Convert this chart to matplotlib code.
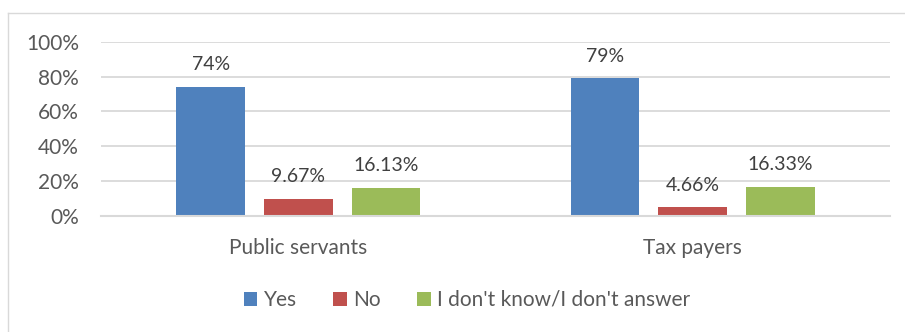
import matplotlib
matplotlib.use("Agg")
import matplotlib.pyplot as plt
from matplotlib.lines import Line2D
import numpy as np

categories = ["Public servants", "Tax payers"]
series_names = ["Yes", "No", "I don't know/I don't answer"]
yes_vals = [74, 79]
no_vals = [9.67, 4.66]
dk_vals = [16.13, 16.33]
value_labels = [["74%", "79%"], ["9.67%", "4.66%"], ["16.13%", "16.33%"]]
y_ticks = [0, 20, 40, 60, 80, 100]

colors = ["#4F81BD", "#C0504D", "#9BBB59"]
grid_color = "#D9D9D9"
text_color = "#595959"
label_color = "#404040"

plt.rcParams["font.family"] = ["Lato", "DejaVu Sans"]

fig = plt.figure(figsize=(9.05, 3.32), dpi=100)
ax = fig.add_axes([101 / 905, 1 - 215.5 / 332, 789 / 905, 173.5 / 332])

x = np.arange(len(categories))
width = 0.174
step = 0.222
all_vals = [yes_vals, no_vals, dk_vals]
for i, (vals, name, col) in enumerate(zip(all_vals, series_names, colors)):
    pos = x + (i - 1) * step
    ax.bar(pos, vals, width=width, color=col, label=name, zorder=3)
    for p, v, lab in zip(pos, vals, value_labels[i]):
        ax.annotate(lab, (p, v), xytext=(0, 10), textcoords="offset points",
                    ha="center", va="bottom", fontsize=14, color=label_color)

ax.set_xlim(-0.5, 1.5)
ax.set_ylim(0, 100)
ax.set_yticks(y_ticks)
ax.set_yticklabels([f"{t}%" for t in y_ticks])
ax.set_xticks(x)
ax.set_xticklabels(categories)
ax.tick_params(axis="y", length=0, pad=16, labelsize=15, labelcolor=text_color)
ax.tick_params(axis="x", length=0, pad=16, labelsize=15, labelcolor=text_color)
ax.yaxis.grid(True, color=grid_color, linewidth=1.3, zorder=0)
for s in ["top", "right", "left"]:
    ax.spines[s].set_visible(False)
ax.spines["bottom"].set_color(grid_color)
ax.spines["bottom"].set_linewidth(1.5)
ax.spines["bottom"].set_zorder(4)

leg = fig.legend(loc="center", bbox_to_anchor=(467 / 905, 1 - 300 / 332), ncol=3,
                 frameon=False, fontsize=15, handlelength=0.65, handleheight=0.65,
                 handletextpad=0.3, columnspacing=1.75)
for t in leg.get_texts():
    t.set_color(text_color)

# chart frame
fig.add_artist(Line2D([8 / 905, 8 / 905], [0, 1 - 13 / 332], color=grid_color,
                      linewidth=1, transform=fig.transFigure))
fig.add_artist(Line2D([8 / 905, 1], [1 - 13 / 332, 1 - 13 / 332], color=grid_color,
                      linewidth=1, transform=fig.transFigure))

fig.savefig("out.png", dpi=100, facecolor="white")
